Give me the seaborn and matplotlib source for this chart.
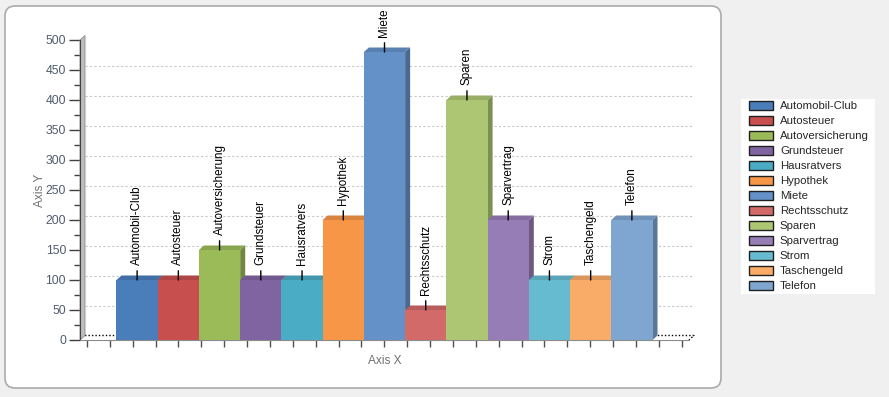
import numpy as np
import pandas as pd
import seaborn as sns
import matplotlib.pyplot as plt
from matplotlib.colors import to_rgb
from matplotlib.patches import Polygon, Patch, FancyBboxPatch, Rectangle

categories = ['Automobil-Club', 'Autosteuer', 'Autoversicherung', 'Grundsteuer',
              'Hausratvers', 'Hypothek', 'Miete', 'Rechtsschutz', 'Sparen',
              'Sparvertrag', 'Strom', 'Taschengeld', 'Telefon']
values = [100, 100, 150, 100, 100, 200, 480, 50, 400, 200, 100, 100, 200]
colors = ['#4A7EBB', '#C7504E', '#9BBB59', '#8064A2', '#4BACC6', '#F79646',
          '#6492C8', '#D16A68', '#ADC673', '#977DB5', '#66BBD1', '#F9AB68',
          '#7FA5D1']
y_ticks = [0, 50, 100, 150, 200, 250, 300, 350, 400, 450, 500]

sns.set_style('white')
plt.rcParams['font.family'] = ['Liberation Sans', 'DejaVu Sans']

W, H = 889, 397
fig = plt.figure(figsize=(W / 100, H / 100), dpi=100)
fig.patch.set_facecolor('#F0F0F0')

# white rounded panel behind the chart
panel = FancyBboxPatch((0.05, 0.09), 7.16, 3.82,
                       boxstyle='round,pad=0,rounding_size=0.1',
                       transform=fig.dpi_scale_trans, facecolor='white',
                       edgecolor='#ABABAB', lw=1.2, zorder=-2)
fig.add_artist(panel)
legend_bg = Rectangle((7.41, (H - 294) / 100), 1.34, 1.95,
                      transform=fig.dpi_scale_trans, facecolor='white',
                      edgecolor='none', zorder=-1)
fig.add_artist(legend_bg)

ax_w_px, ax_h_px = 609, 300
ax = fig.add_axes([80 / W, 57 / H, ax_w_px / W, ax_h_px / H])
ax.set_facecolor('none')

df = pd.DataFrame({'Kategorie': categories, 'Wert': values})
sns.barplot(data=df, x='Kategorie', y='Wert', hue='Kategorie',
            palette=colors, width=1.0, dodge=False, saturation=1,
            legend=False, ax=ax)

x0, x1 = -1.385, 13.385
ax.set_xlim(x0, x1)
ax.set_ylim(0, 500)
ppx = ax_w_px / (x1 - x0)
ddx = 5 / ppx              # depth offset in data units
ddy = 4.5 * 500 / ax_h_px

# back wall grid
for v in y_ticks[1:-1]:
    ax.plot([x0 + ddx, x1 + ddx], [v + ddy, v + ddy], color='#C8C8C8',
            lw=0.8, ls=(0, (2, 2)), zorder=1, clip_on=False)

# floor and left wall
ax.add_patch(Polygon([(x0, 0), (x1, 0), (x1 + ddx, ddy), (x0 + ddx, ddy)],
                     facecolor='white', edgecolor='none', zorder=1.5,
                     clip_on=False))
ax.plot([x0 + ddx, x1 + ddx, x1], [ddy, ddy, 0], color='black', lw=1,
        ls=(0, (1, 1.5)), zorder=1.6, clip_on=False)
ax.add_patch(Polygon([(x0, 0), (x0, 500), (x0 + ddx, 500 + ddy), (x0 + ddx, ddy)],
                     facecolor='#BDBDBD', edgecolor='#8A8A8A', lw=0.6,
                     zorder=1.7, clip_on=False))

# pseudo 3d bars
for i, p in enumerate(ax.patches[:len(categories)]):
    bx, bw, bh = p.get_x(), p.get_width(), p.get_height()
    base = np.array(to_rgb(p.get_facecolor()))
    z = 3 + 0.01 * i
    p.set_edgecolor('none')
    p.set_zorder(z)
    ax.add_patch(Polygon([(bx + bw, 0), (bx + bw + ddx, ddy),
                          (bx + bw + ddx, bh + ddy), (bx + bw, bh)],
                         facecolor=base * 0.72, edgecolor='none',
                         zorder=z - 0.005, clip_on=False))
    ax.add_patch(Polygon([(bx, bh), (bx + bw, bh), (bx + bw + ddx, bh + ddy),
                          (bx + ddx, bh + ddy)],
                         facecolor=base * 0.88, edgecolor='none',
                         zorder=z - 0.004, clip_on=False))
    ax.annotate(categories[i], xy=(bx + bw / 2, bh), xytext=(0, 11),
                textcoords='offset points', rotation=90, ha='center',
                va='bottom', fontsize=8.4, color='black', zorder=10,
                annotation_clip=False,
                arrowprops=dict(arrowstyle='-', color='black', lw=1,
                                shrinkA=2, shrinkB=0))

# axes styling
sns.despine(ax=ax, top=True, right=True)
ax.spines['left'].set_color('#404040')
ax.spines['bottom'].set_color('#8C8C8C')
ax.set_yticks(y_ticks)
ax.set_yticks([v + 25 for v in y_ticks[:-1]], minor=True)
ax.tick_params(axis='y', which='major', length=8, width=1, color='#404040',
               pad=2, labelsize=8.8, labelcolor='#4F5B6E', left=True)
ax.tick_params(axis='y', which='minor', length=4, width=1, color='#404040',
               left=True)
x_tick_pos = x0 + (7 + 22.87 * np.arange(27)) / ppx
ax.set_xticks(x_tick_pos)
ax.set_xticklabels([])
ax.tick_params(axis='x', which='major', length=5, width=1, color='#505050',
               bottom=True)
ax.set_xlabel('Axis X', color='#707070', fontsize=8.6, labelpad=2)
ax.set_ylabel('Axis Y', color='#707070', fontsize=8.6, labelpad=0)

handles = [Patch(facecolor=c, edgecolor='#202020', lw=1) for c in colors]
fig.legend(handles, categories, loc='upper left',
           bbox_to_anchor=(748 / W, 1 - 100 / H), frameon=False,
           fontsize=8.2, handlelength=2.1, handleheight=0.8,
           handletextpad=0.6, labelspacing=0.41, borderpad=0.1,
           borderaxespad=0)

fig.savefig('out.png', dpi=100, facecolor=fig.get_facecolor())
